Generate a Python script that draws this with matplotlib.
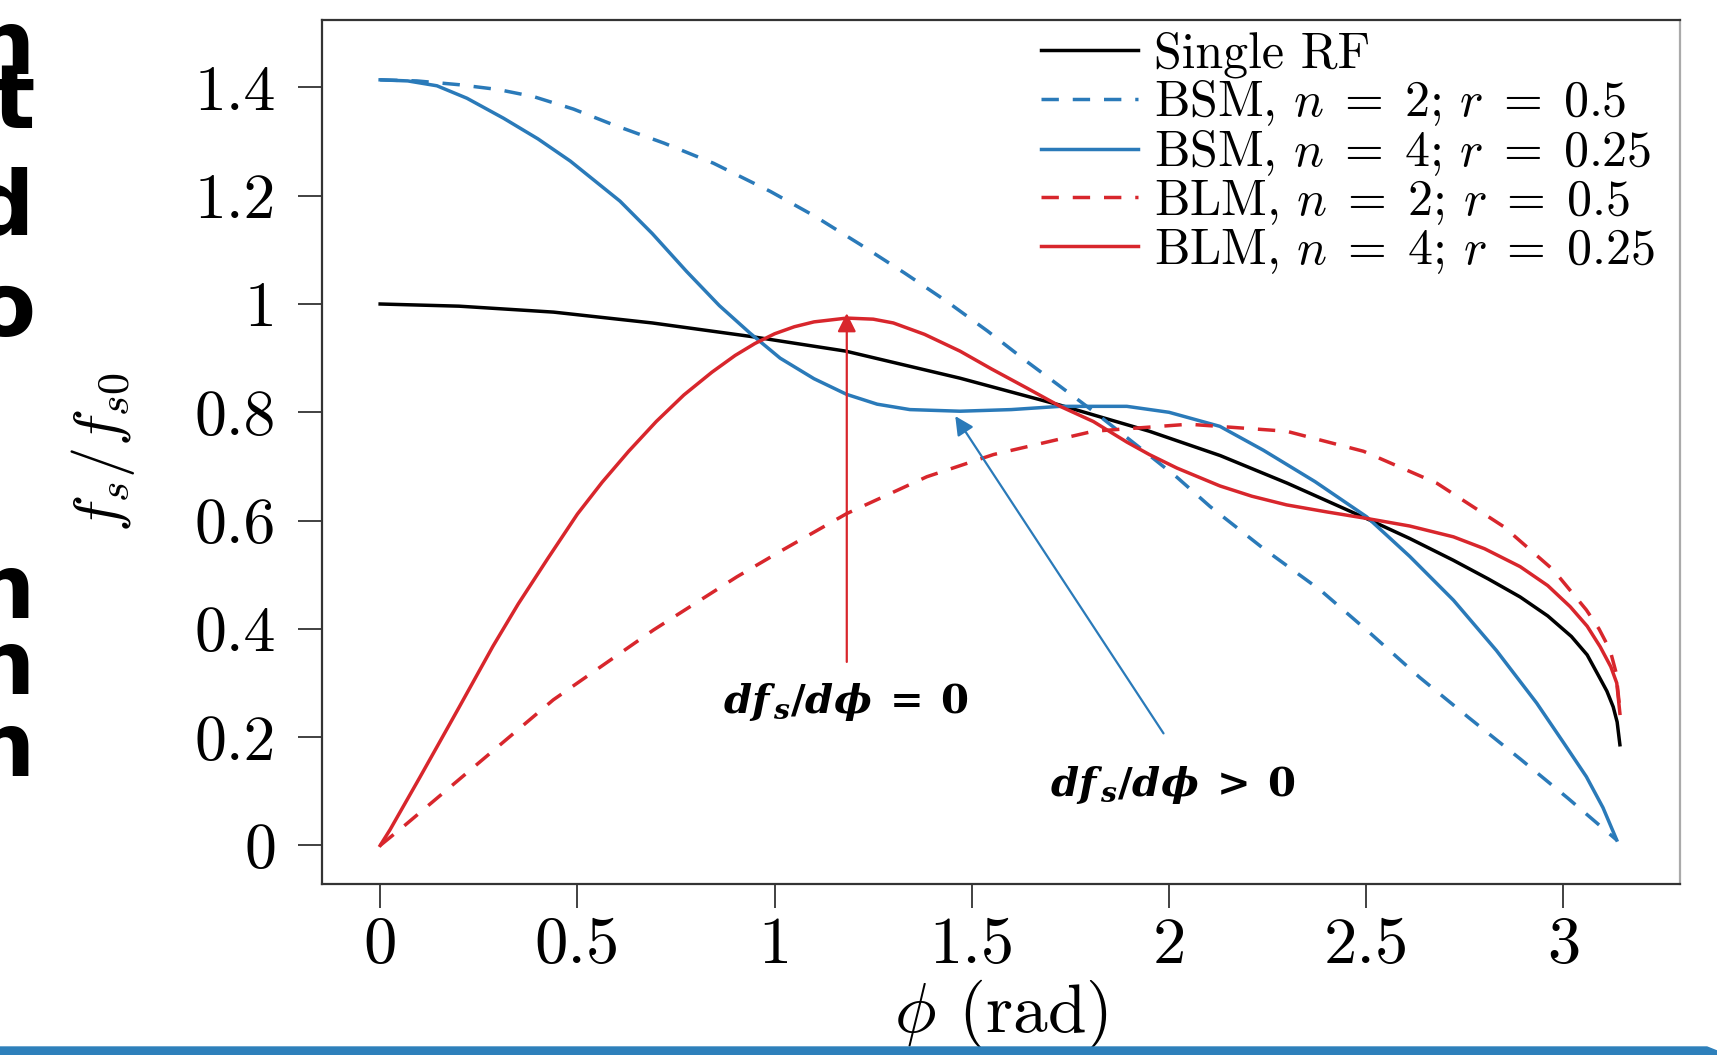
import matplotlib
matplotlib.use('Agg')
import matplotlib.pyplot as plt
from matplotlib.patches import Polygon

# --- data ---
phi_single = [0, 0.20, 0.44, 0.69, 0.94, 1.18, 1.47, 1.72, 1.95, 2.13, 2.30, 2.50, 2.61, 2.72,
              2.81, 2.89, 2.96, 3.02, 3.06, 3.09, 3.11, 3.126, 3.136, 3.143]
fs_single = [1.0, 0.996, 0.985, 0.965, 0.940, 0.913, 0.863, 0.814, 0.765, 0.720, 0.669, 0.604,
             0.567, 0.527, 0.492, 0.459, 0.424, 0.386, 0.352, 0.312, 0.285, 0.256, 0.228, 0.186]

phi_bsm2 = [0, 0.093, 0.20, 0.30, 0.389, 0.49, 0.591, 0.72, 0.845, 0.989, 1.10, 1.217, 1.33,
            1.436, 1.54, 1.639, 1.72, 1.808, 1.927, 2.02, 2.104, 2.24, 2.383, 2.51, 2.636, 2.76,
            2.890, 3.01, 3.135]
fs_bsm2 = [1.414, 1.412, 1.405, 1.396, 1.383, 1.360, 1.331, 1.297, 1.260, 1.208, 1.163, 1.110,
           1.057, 1.005, 0.950, 0.894, 0.850, 0.802, 0.734, 0.680, 0.626, 0.548, 0.472, 0.392,
           0.310, 0.236, 0.160, 0.088, 0.010]

phi_bsm4 = [0, 0.07, 0.144, 0.22, 0.313, 0.40, 0.482, 0.608, 0.69, 0.777, 0.86, 0.938, 1.014,
            1.10, 1.183, 1.26, 1.343, 1.470, 1.60, 1.724, 1.893, 2.0, 2.129, 2.239, 2.37, 2.501,
            2.61, 2.721, 2.83, 2.932, 3.0, 3.058, 3.10, 3.135]
fs_bsm4 = [1.414, 1.412, 1.403, 1.380, 1.343, 1.305, 1.264, 1.190, 1.130, 1.060, 0.997, 0.946,
           0.900, 0.862, 0.833, 0.815, 0.805, 0.802, 0.805, 0.811, 0.811, 0.800, 0.774, 0.730,
           0.672, 0.607, 0.534, 0.453, 0.360, 0.263, 0.190, 0.127, 0.070, 0.010]

phi_blm2 = [0, 0.059, 0.228, 0.439, 0.693, 0.904, 1.014, 1.183, 1.386, 1.555, 1.808, 2.05,
            2.298, 2.493, 2.679, 2.848, 2.974, 3.058, 3.09, 3.118, 3.133, 3.143]
fs_blm2 = [0, 0.035, 0.139, 0.269, 0.398, 0.496, 0.543, 0.613, 0.681, 0.722, 0.765, 0.778,
           0.765, 0.728, 0.669, 0.589, 0.509, 0.435, 0.400, 0.361, 0.320, 0.250]

phi_blm4 = [0, 0.025, 0.10, 0.147, 0.20, 0.286, 0.35, 0.425, 0.50, 0.563, 0.63, 0.70, 0.77,
            0.841, 0.90, 0.95, 1.0, 1.05, 1.10, 1.183, 1.25, 1.301, 1.38, 1.470, 1.55, 1.639,
            1.724, 1.808, 1.893, 1.95, 2.02, 2.129, 2.21, 2.298, 2.40, 2.501, 2.61, 2.721, 2.80,
            2.890, 2.96, 3.017, 3.06, 3.093, 3.12, 3.135, 3.143]
fs_blm4 = [0, 0.029, 0.125, 0.186, 0.255, 0.368, 0.446, 0.530, 0.612, 0.671, 0.728, 0.783,
           0.832, 0.874, 0.905, 0.927, 0.945, 0.958, 0.967, 0.974, 0.972, 0.965, 0.944, 0.913,
           0.880, 0.845, 0.811, 0.783, 0.745, 0.722, 0.697, 0.664, 0.645, 0.629, 0.616, 0.604,
           0.590, 0.570, 0.548, 0.515, 0.480, 0.441, 0.405, 0.367, 0.330, 0.300, 0.244]

labels = ['Single RF', r'BSM, $n\;=\;2$; $r\;=\;0.5$', r'BSM, $n\;=\;4$; $r\;=\;0.25$',
          r'BLM, $n\;=\;2$; $r\;=\;0.5$', r'BLM, $n\;=\;4$; $r\;=\;0.25$']

xticks = [0, 0.5, 1, 1.5, 2, 2.5, 3]
xticklabels = ['0', '0.5', '1', '1.5', '2', '2.5', '3']
yticks = [0, 0.2, 0.4, 0.6, 0.8, 1.0, 1.2, 1.4]
yticklabels = ['0', '0.2', '0.4', '0.6', '0.8', '1', '1.2', '1.4']

blue = '#2a7ab9'
red = '#d8262c'

plt.rcParams['font.family'] = 'serif'
plt.rcParams['font.serif'] = ['cmr10']
plt.rcParams['mathtext.fontset'] = 'cm'
plt.rcParams['axes.formatter.use_mathtext'] = True
# font for the bold annotations
plt.rcParams['mathtext.it'] = 'DejaVu Serif:italic:bold'
plt.rcParams['mathtext.rm'] = 'DejaVu Serif:bold'
plt.rcParams['mathtext.bf'] = 'DejaVu Serif:bold'

fig = plt.figure(figsize=(17.17, 10.55), dpi=100)
ax = fig.add_axes([0.1874, 0.1618, 0.7912, 0.8195])

lw = 2.5
dash = (0, (5.0, 4.0))
ax.plot(phi_single, fs_single, color='black', lw=lw, label=labels[0])
ax.plot(phi_bsm2, fs_bsm2, color=blue, lw=lw, ls=dash, label=labels[1])
ax.plot(phi_bsm4, fs_bsm4, color=blue, lw=lw, label=labels[2])
ax.plot(phi_blm2, fs_blm2, color=red, lw=lw, ls=dash, label=labels[3])
ax.plot(phi_blm4, fs_blm4, color=red, lw=lw, label=labels[4])

ax.set_xlim(-0.148, 3.296)
ax.set_ylim(-0.0717, 1.525)
ax.set_xticks(xticks)
ax.set_xticklabels(xticklabels)
ax.set_yticks(yticks)
ax.set_yticklabels(yticklabels)
ax.tick_params(axis='both', direction='out', length=17, width=1.3, color='#333333')
ax.tick_params(axis='x', labelsize=48, pad=6)
ax.tick_params(axis='y', labelsize=46, pad=16)
for side in ['left', 'top', 'bottom']:
    ax.spines[side].set_color('#333333')
    ax.spines[side].set_linewidth(1.6)
ax.spines['right'].set_color('#aaaaaa')
ax.spines['right'].set_linewidth(1.6)

ax.set_xlabel(r'$\phi$ (rad)', fontsize=50)
ax.xaxis.set_label_coords(0.5, -0.108)
ax.set_ylabel(r'$f_s/f_{s0}$', fontsize=45)
ax.yaxis.set_label_coords(-0.136, 0.5)

ax.legend(loc='upper left', bbox_to_anchor=(0.606, 0.970), bbox_transform=fig.transFigure,
          frameon=False, fontsize=36, handlelength=1.94, handletextpad=0.32,
          labelspacing=0.0, borderpad=0, borderaxespad=0)

# annotations
ax.annotate('', xy=(1.183, 0.983), xytext=(1.183, 0.339),
            arrowprops=dict(arrowstyle='-|>', color=red, lw=1.6, mutation_scale=28,
                            shrinkA=0, shrinkB=0))
ax.annotate('', xy=(1.458, 0.793), xytext=(1.986, 0.207),
            arrowprops=dict(arrowstyle='-|>', color=blue, lw=1.6, mutation_scale=28,
                            shrinkA=0, shrinkB=0))
ax.text(1.181, 0.265, r'$df_{\,s}/d\phi\:=\:0$', fontsize=29, ha='center', va='center',
        math_fontfamily='custom')
ax.text(2.010, 0.112, r'$df_{\,s}/d\phi\:>\:0$', fontsize=29, ha='center', va='center',
        math_fontfamily='custom')

# clipped letters from neighbouring slide column
frag = ['n', 't', 'd', 'o', 'n', 'n', 'n']
frag_y = [50, 103, 210, 312, 594, 670, 752]
for ch, yy in zip(frag, frag_y):
    fig.text(35 / 1717, 1 - yy / 1055, ch, fontsize=64, fontweight='bold',
             family='DejaVu Sans', ha='right', va='center')

# blue bar at the bottom of the slide
W, H = 1717, 1055
bar = Polygon([(0, 0), (1, 0), (1, 4 / H), (1 - 10 / W, 8 / H), (0, 8 / H)],
              closed=True, transform=fig.transFigure, color='#2e80bb')
fig.patches.append(bar)

fig.savefig('out.png', dpi=100)
